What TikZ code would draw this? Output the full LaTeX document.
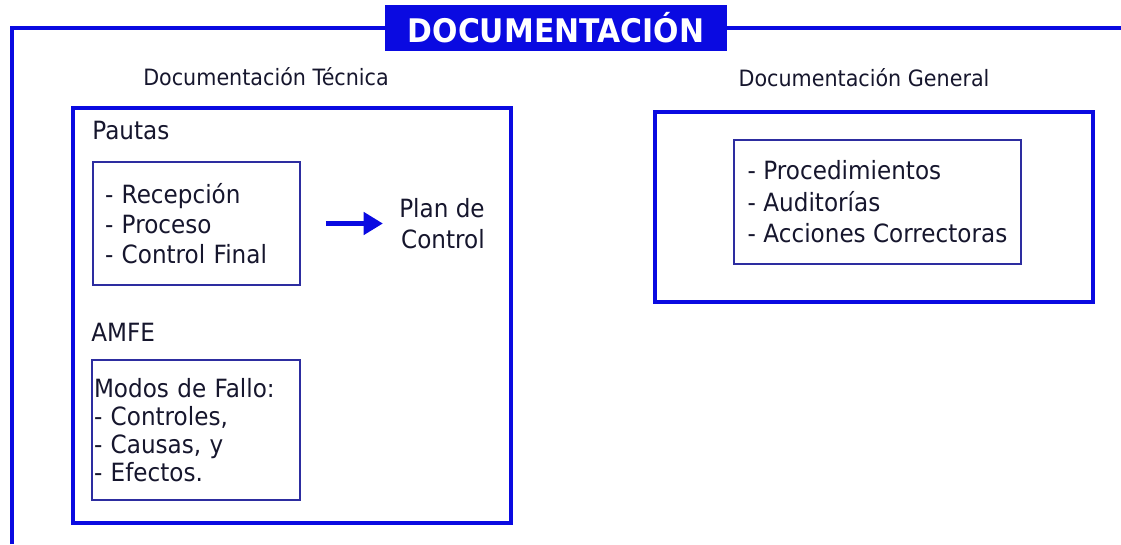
\documentclass[tikz,border=0pt]{standalone}
\usepackage{fontspec}
\setmainfont{DejaVu Sans}[FakeStretch=0.92]
\usetikzlibrary{positioning, arrows.meta}

\definecolor{azul}{RGB}{10,10,225}
\definecolor{azulosc}{RGB}{45,45,160}
\definecolor{tinta}{RGB}{22,22,45}

\begin{document}
\begin{tikzpicture}[x=0.02cm, y=-0.02cm,
		marco/.style={draw=azul, line width=2.2pt},
		cajita/.style={draw=azulosc, line width=1.1pt, text=tinta, font=\fontsize{14.3}{17}\selectfont},
		rotulo/.style={text=tinta, inner sep=0pt, font=\fontsize{14.3}{17}\selectfont},
		cabecera/.style={text=tinta, font=\fontsize{12.8}{14}\selectfont},
		flecha/.style={-{Triangle[length=11pt, width=12.5pt]}, draw=azul, line width=3.4pt}
		]
		
		\useasboundingbox (0,0) rectangle (1121,544);
		
		% marco general y titulo
		\draw[marco] (12,544) -- (12,28) -- (1121,28);
		\node[fill=azul, text=white, minimum width=6.84cm, minimum height=0.92cm, inner sep=0pt, font=\fontsize{18.5}{20}\selectfont\bfseries] (titulo) at (556,28) {DOCUMENTACIÓN};
		
		\node[cabecera] (tecnica) at (266,77) {Documentación Técnica};
		\node[cabecera] (general) at (864,78) {Documentación General};
		
		\draw[marco] (73,108) rectangle (511,523);
		\draw[marco] (655,112) rectangle (1093,302);
		
		% documentacion tecnica
		\node[cajita, text width=3.66cm, inner xsep=0.24cm, minimum height=2.46cm, align=left] (pautasbox) at (196.5,223.5) {- Recepción\\- Proceso\\- Control Final};
		\node[rotulo, above=0.42cm of pautasbox.north west, anchor=south west] (pautas) {Pautas};
		\node[rotulo, align=right, right=1.96cm of pautasbox, font=\fontsize{14.3}{18}\selectfont] (plan) {Plan de\\Control};
		\draw[flecha, shorten <=0.5cm, shorten >=0.32cm] (pautasbox) -- (plan);
		
		\node[cajita, text width=4.08cm, inner xsep=0.04cm, minimum height=2.8cm, align=left, font=\fontsize{14.3}{16}\selectfont] (amfebox) at (196,430) {Modos de Fallo:\\- Controles,\\- Causas, y\\- Efectos.};
		\node[rotulo, above=0.34cm of amfebox.north west, anchor=south west] (amfe) {AMFE};
		
		% documentacion general
		\node[cajita, minimum width=5.74cm, minimum height=2.48cm, align=left, font=\fontsize{14.3}{18}\selectfont] (procbox) at (877.5,202) {- Procedimientos\\- Auditorías\\- Acciones Correctoras};
		
	\end{tikzpicture}
\end{document}
